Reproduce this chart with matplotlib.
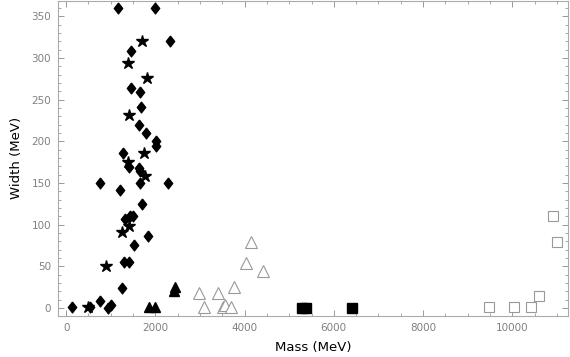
import numpy as np
import matplotlib
matplotlib.use('Agg')
import matplotlib.pyplot as plt
from matplotlib.ticker import MultipleLocator

# light unflavoured mesons (filled diamonds)
diamond_mass = [1157, 2000, 2322, 1456, 1456, 1657, 1687, 1635, 1785, 2009, 2022, 1269,
                1418, 1642, 1657, 1657, 761, 2284, 1209, 1695, 1321, 1433, 1507, 1829,
                1523, 1292, 1418, 1261, 761, 128, 545, 948, 1008]
diamond_width = [360, 360, 320, 309, 264, 259, 241, 220, 210, 201, 194, 186,
                 169, 168, 164, 150, 150, 150, 142, 125, 107, 110, 110, 87,
                 76, 55, 55, 24, 9, 1, 1, 0, 4]

# strange mesons (stars)
star_mass = [1702, 1396, 1807, 1404, 1747, 1381, 1777, 1418, 1247, 889, 495]
star_width = [320, 294, 276, 232, 186, 175, 159, 99, 91, 51, 2]

# charmed mesons (filled triangles)
tri_mass = [1865, 1985, 2426, 2441]
tri_width = [1, 1, 21, 25]

# charmonium (open triangles)
otri_mass = [4143, 4031, 4412, 3770, 2972, 3411, 3084, 3520, 3556, 3686]
otri_width = [79, 54, 45, 25, 18, 18, 1, 1, 4, 1]

# bottom mesons (filled squares)
sq_mass = [5280, 5370, 6400]
sq_width = [0, 0, 0]

# bottomonium (open squares)
osq_mass = [10922, 11011, 10609, 9474, 10034, 10430]
osq_width = [111, 79, 15, 1, 1, 1]

# wider diamond than matplotlib's 'd'
diam = [(0, 1), (0.78, 0), (0, -1), (-0.78, 0), (0, 1)]

fig = plt.figure(figsize=(5.7, 3.57), dpi=100)
ax = fig.add_axes([0.102, 0.116, 0.894, 0.882])

ax.plot(diamond_mass, diamond_width, marker=diam, ls='none', color='black', markersize=8, mew=0.8)
ax.plot(star_mass, star_width, '*', color='black', markersize=9)
ax.plot(tri_mass, tri_width, '^', color='black', markersize=6.5)
ax.plot(otri_mass, otri_width, '^', mfc='white', mec='#999999', markersize=9, mew=0.8)
ax.plot(sq_mass, sq_width, 's', color='black', markersize=6.5)
ax.plot(osq_mass, osq_width, 's', mfc='white', mec='#999999', markersize=7.5, mew=0.8)

ax.set_xlim(-179, 11243)
ax.set_ylim(-8.9, 368.8)

ax.xaxis.set_major_locator(MultipleLocator(2000))
ax.xaxis.set_minor_locator(MultipleLocator(500))
ax.yaxis.set_major_locator(MultipleLocator(50))
ax.yaxis.set_minor_locator(MultipleLocator(10))

for s in ax.spines.values():
	s.set_color('#aaaaaa')
	s.set_linewidth(0.8)

ax.tick_params(which='both', direction='in', top=True, right=True, color='#999999',
               labelcolor='#808080', labelsize=7.5)
ax.tick_params(which='major', length=4, width=0.7, pad=5)
ax.tick_params(which='minor', length=2, width=0.6)

ax.set_xlabel('Mass (MeV)', fontsize=9.5, labelpad=6)
ax.set_ylabel('Width (MeV)', fontsize=9.5, labelpad=6)

fig.savefig('out.png', dpi=100)
